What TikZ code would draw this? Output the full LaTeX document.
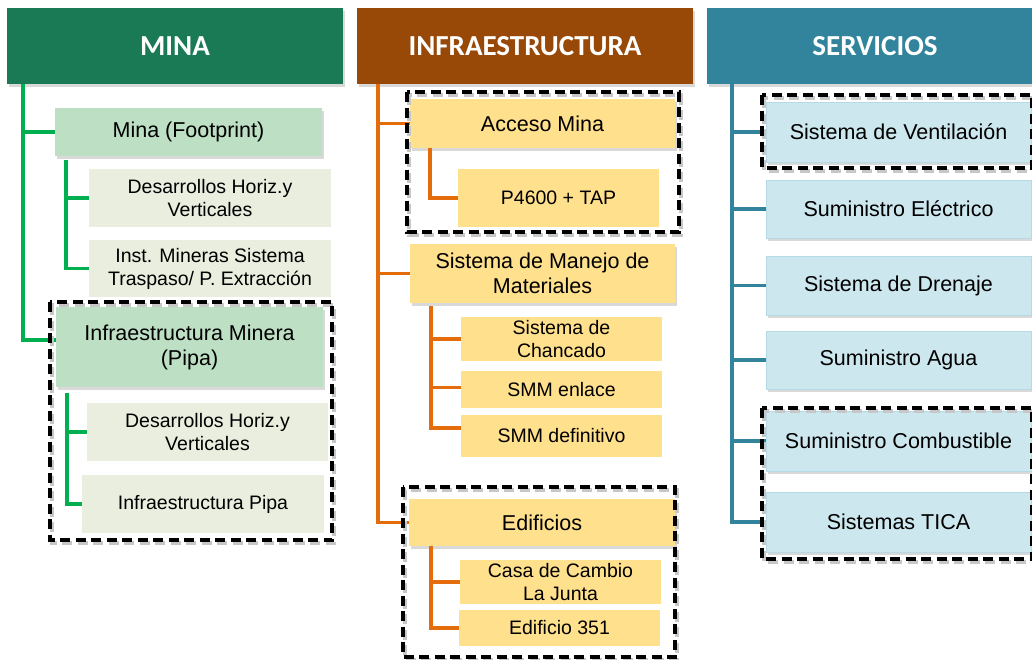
\documentclass[tikz,border=0pt]{standalone}
\usepackage{fontspec}
\setmainfont{Liberation Sans}
\newfontfamily\hdrfont{Carlito}
\usetikzlibrary{shadows}
\definecolor{mgreen}{HTML}{1B7A56}
\definecolor{gline}{HTML}{00B050}
\definecolor{mlgreen}{HTML}{BDDFC4}
\definecolor{mbeige}{HTML}{EAEEDF}
\definecolor{ibrown}{HTML}{984807}
\definecolor{oline}{HTML}{E46C0A}
\definecolor{iyellow}{HTML}{FFE08C}
\definecolor{steal}{HTML}{31849B}
\definecolor{sline}{HTML}{31849B}
\definecolor{sblue}{HTML}{CDE7EE}
\definecolor{sbord}{HTML}{B3DAE5}
\newcommand{\bx}[7]{%
  \node[#1, minimum width={(#5-#3)*1pt}, minimum height={(#6-#4)*1pt}] (#2) at ({(#3+#5)/2},{(#4+#6)/2}) {#7};}
\tikzset{
  shad/.style={drop shadow={shadow xshift=2pt, shadow yshift=-3pt, opacity=0.3}},
  hdr/.style={fill=#1, text=white, inner sep=0pt, shad,
    font=\hdrfont\bfseries\fontsize{29}{34}\selectfont},
  lvA/.style={fill=#1, inner sep=0pt, align=center, shad,
    font=\fontsize{21.5}{25}\selectfont},
  lvB/.style={fill=#1, inner sep=0pt, align=center,
    font=\fontsize{19.5}{23}\selectfont},
  lvS/.style={fill=sblue, draw=sbord, line width=0.8pt, inner sep=0pt, align=center, shad,
    font=\fontsize{21.5}{25}\selectfont},
  conn/.style={draw=#1, line width=3.6pt},
  grp/.style={draw=black, line width=3.2pt, dash pattern=on 10pt off 5.5pt},
  grpsh/.style={draw=black!22, line width=3.2pt, dash pattern=on 10pt off 5.5pt},
}
\begin{document}
\begin{tikzpicture}[x=1pt,y=-1pt]
\useasboundingbox (0,0) rectangle (1032,659);
% ---------------- MINA ----------------
\bx{hdr=mgreen}{mina}{7}{8}{343}{84}{MINA}
\bx{lvA=mlgreen}{fp}{55}{108}{322}{156}{Mina (Footprint)}
\bx{lvB=mbeige}{d1}{89}{169}{331}{227}{Desarrollos Horiz.y\\Verticales}
\bx{lvB=mbeige}{im}{89}{240}{331}{297}{Inst. Mineras Sistema\\Traspaso/ P. Extracción}
\bx{lvA=mlgreen}{pipa}{56}{307}{323}{387}{Infraestructura Minera\\(Pipa)}
\bx{lvB=mbeige}{d2}{87}{403}{328}{461}{Desarrollos Horiz.y\\Verticales}
\bx{lvB=mbeige}{ip}{82}{475}{324}{533}{Infraestructura Pipa}
\draw[conn=gline] ([xshift=16pt]mina.south west) |- (fp.west);
\draw[conn=gline] ([xshift=16pt]mina.south west) |- ([yshift=7pt]pipa.west);
\draw[conn=gline] ([xshift=11pt,yshift=-4pt]fp.south west) |- (d1.west);
\draw[conn=gline] ([xshift=11pt,yshift=-4pt]fp.south west) |- (im.west);
\draw[conn=gline] ([xshift=11pt,yshift=-6pt]pipa.south west) |- (d2.west);
\draw[conn=gline] ([xshift=11pt,yshift=-6pt]pipa.south west) |- (ip.west);
\draw[grpsh] (52,305) rectangle (334,543);
\draw[grp] (50,302) rectangle (332,540);
% ---------------- INFRAESTRUCTURA ----------------
\bx{hdr=ibrown}{infra}{357}{8}{693}{84}{INFRAESTRUCTURA}
\bx{lvA=iyellow}{am}{410}{99}{675}{148}{Acceso Mina}
\bx{lvB=iyellow}{p46}{458}{169}{659}{227}{P4600 + TAP}
\bx{lvA=iyellow}{smm}{410}{244}{675}{303}{Sistema de Manejo de\\Materiales}
\bx{lvB=iyellow}{chan}{461}{317}{662}{361}{Sistema de\\Chancado}
\bx{lvB=iyellow}{enl}{461}{371}{662}{408}{SMM enlace}
\bx{lvB=iyellow}{defi}{461}{415}{662}{457}{SMM definitivo}
\bx{lvA=iyellow}{edif}{409}{499}{675}{546}{Edificios}
\bx{lvB=iyellow}{casa}{460}{560}{661}{604}{Casa de Cambio\\La Junta}
\bx{lvB=iyellow}{e351}{459}{610}{660}{646}{Edificio 351}
\draw[conn=oline] ([xshift=21pt]infra.south west) |- (am.west);
\draw[conn=oline] ([xshift=21pt]infra.south west) |- (smm.west);
\draw[conn=oline] ([xshift=21pt]infra.south west) |- (edif.west);
\draw[conn=oline] ([xshift=20pt]am.south west) |- (p46.west);
\draw[conn=oline] ([xshift=21pt,yshift=-3pt]smm.south west) |- (chan.west);
\draw[conn=oline] ([xshift=21pt,yshift=-3pt]smm.south west) |- ([yshift=2pt]enl.west);
\draw[conn=oline] ([xshift=21pt,yshift=-3pt]smm.south west) |- ([yshift=8pt]defi.west);
\draw[conn=oline] ([xshift=22pt]edif.south west) |- (casa.west);
\draw[conn=oline] ([xshift=22pt]edif.south west) |- (e351.west);
\draw[grpsh] (409,95) rectangle (681,235);
\draw[grp] (407,92) rectangle (679,232);
\draw[grpsh] (405,490) rectangle (677,660);
\draw[grp] (403,487) rectangle (675,657);
% ---------------- SERVICIOS ----------------
\bx{hdr=steal}{serv}{707}{8}{1043}{84}{SERVICIOS}
\bx{lvS}{vent}{766}{102}{1031}{162}{Sistema de Ventilación}
\bx{lvS}{elec}{766}{180}{1031}{238}{Suministro Eléctrico}
\bx{lvS}{dren}{766}{256}{1031}{315}{Sistema de Drenaje}
\bx{lvS}{agua}{766}{331}{1031}{389}{Suministro Agua}
\bx{lvS}{comb}{766}{411}{1031}{471}{Suministro Combustible}
\bx{lvS}{tica}{766}{492}{1031}{552}{Sistemas TICA}
\foreach \n in {vent,elec,dren,agua,comb,tica}
  \draw[conn=sline] ([xshift=25pt]serv.south west) |- (\n.west);
\draw[grpsh] (764,98) rectangle (1034,171);
\draw[grp] (762,95) rectangle (1032,168);
\draw[grpsh] (764,411) rectangle (1034,562);
\draw[grp] (762,408) rectangle (1032,559);
\end{tikzpicture}
\end{document}
